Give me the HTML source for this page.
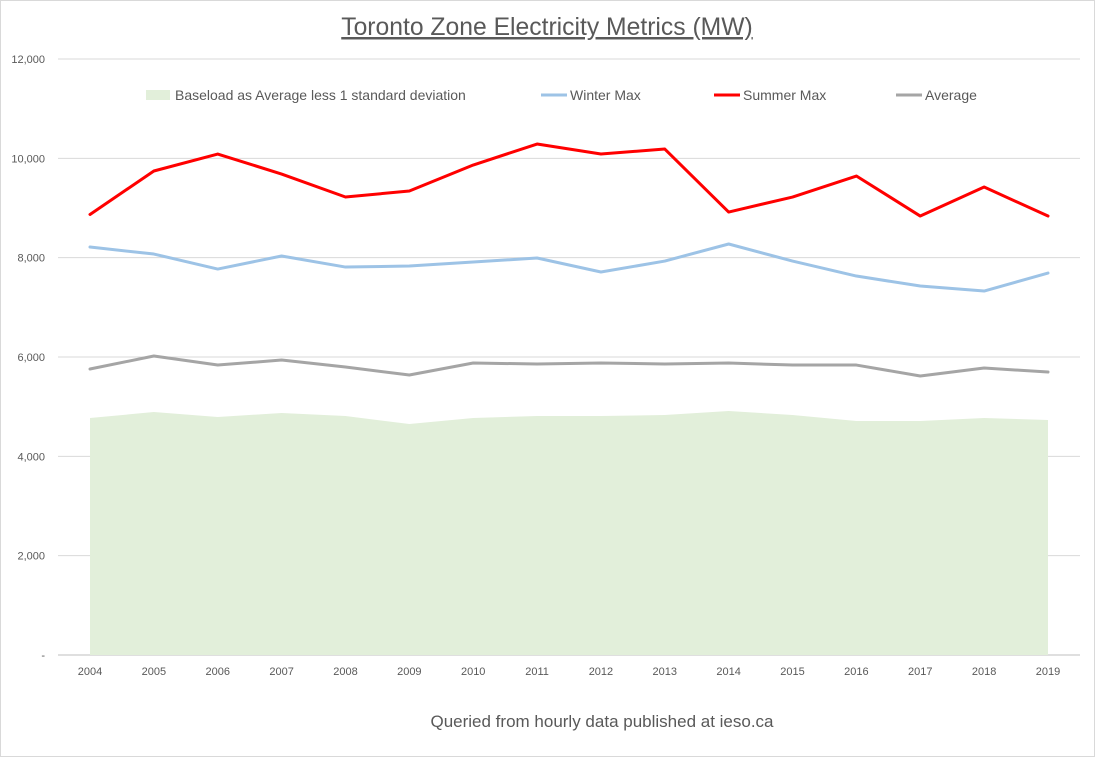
<!DOCTYPE html>
<html><head><meta charset="utf-8"><style>
body{margin:0;background:#fff;font-family:"Liberation Sans",sans-serif;}
svg text{font-family:"Liberation Sans",sans-serif;}
</style></head><body>
<svg id="chart" width="1095" height="757" xmlns="http://www.w3.org/2000/svg">
<rect x="0.5" y="0.5" width="1094" height="756" fill="#fff" stroke="#d9d9d9"/>
<text x="547" y="35" text-anchor="middle" font-size="24.7" fill="#595959" text-decoration="underline">Toronto Zone Electricity Metrics (MW)</text>
<text x="602" y="727" text-anchor="middle" font-size="17" fill="#595959">Queried from hourly data published at ieso.ca</text>
<g id="grid"></g><g id="area"></g><g id="lines"></g><g id="axes"></g>
<g font-size="14" fill="#595959">
<rect x="146" y="90" width="24" height="10" fill="#e2efda"/>
<text x="175" y="100">Baseload as Average less 1 standard deviation</text>
<line x1="541" y1="95" x2="567" y2="95" stroke="#9dc3e6" stroke-width="3"/>
<text x="570" y="100">Winter Max</text>
<line x1="714" y1="95" x2="740" y2="95" stroke="#ff0000" stroke-width="3"/>
<text x="743" y="100">Summer Max</text>
<line x1="896" y1="95" x2="922" y2="95" stroke="#a5a5a5" stroke-width="3"/>
<text x="925" y="100">Average</text>
</g>
</svg>
<script>
const years=[2004,2005,2006,2007,2008,2009,2010,2011,2012,2013,2014,2015,2016,2017,2018,2019];
const summerMax=[8870,9745,10087,9684,9221,9342,9865,10288,10087,10187,8919,9221,9644,8838,9422,8838];
const winterMax=[8214,8073,7771,8033,7811,7832,7912,7993,7711,7932,8275,7932,7630,7429,7328,7691];
const average=[5758,6020,5838,5939,5798,5637,5879,5859,5879,5859,5879,5838,5838,5617,5778,5698];
const baseload=[4772,4892,4792,4872,4812,4651,4772,4812,4812,4832,4913,4832,4711,4711,4772,4731];
const yTicks=[0,2000,4000,6000,8000,10000,12000];
const yTickLabels=["-","2,000","4,000","6,000","8,000","10,000","12,000"];
const NS="http://www.w3.org/2000/svg";
const x0=90,x1=1048,yTop=59,yBot=655,yMax=12000;
function xs(i){return x0+(x1-x0)*i/(years.length-1);}
function ys(v){return yBot-(yBot-yTop)*v/yMax;}
function mk(t,a,p){const e=document.createElementNS(NS,t);for(const k in a)e.setAttribute(k,a[k]);p.appendChild(e);return e;}
const grid=document.getElementById('grid'),axes=document.getElementById('axes');
yTicks.forEach((v,i)=>{
 const l=mk('line',{x1:58,x2:1080,y1:ys(v),y2:ys(v),stroke:v===0?'#bfbfbf':'#d9d9d9','stroke-width':1},grid);
 
 
 const t=mk('text',{x:45,y:ys(v)+4,'text-anchor':'end','font-size':11,fill:'#595959'},axes);
 t.textContent=yTickLabels[i];
 
 
});
years.forEach((yr,i)=>{
 const t=mk('text',{x:xs(i),y:675,'text-anchor':'middle','font-size':11,fill:'#595959'},axes);
 t.textContent=yr;
 
 
});
let d='M'+xs(0)+','+ys(0);
baseload.forEach((v,i)=>{d+=' L'+xs(i)+','+ys(v);});
d+=' L'+xs(years.length-1)+','+ys(0)+' Z';
const a=mk('path',{d:d,fill:'#e2efda'},document.getElementById('area'));


function line(arr,col,name){
 const p=mk('polyline',{points:arr.map((v,i)=>xs(i)+','+ys(v)).join(' '),fill:'none',stroke:col,'stroke-width':3,'stroke-linejoin':'round','stroke-linecap':'round'},document.getElementById('lines'));
 
 
}
line(average,'#a5a5a5','average-line');
line(winterMax,'#9dc3e6','winter-max-line');
line(summerMax,'#ff0000','summer-max-line');
</script>
</body></html>
